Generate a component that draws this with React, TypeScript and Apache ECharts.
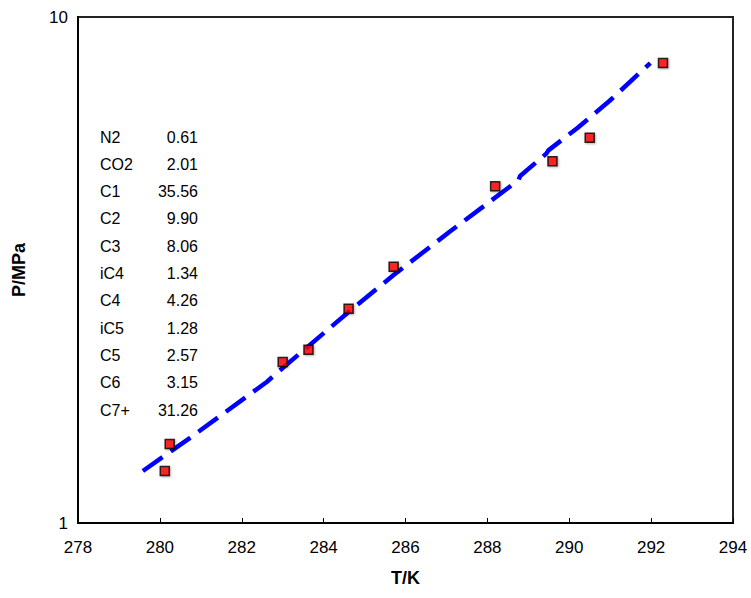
import React, { useEffect, useRef } from "react";
import * as echarts from "echarts";

const measuredT = [280.12, 280.24, 283.0, 283.63, 284.61, 285.71, 288.19, 289.59, 290.5, 292.29];
const measuredP = [1.267, 1.432, 2.08, 2.2, 2.65, 3.21, 4.63, 5.19, 5.77, 8.11];

const modelT = [279.585, 280.73, 282.61, 283.0, 284.61, 285.71, 287.07, 288.76, 288.8, 289.44, 289.49, 290.2, 290.98, 291.98];
const modelP = [1.267, 1.472, 1.9, 2.024, 2.612, 3.091, 3.758, 4.76, 4.85, 5.37, 5.45, 6.035, 6.823, 8.11];

const components = ["N2", "CO2", "C1", "C2", "C3", "iC4", "C4", "iC5", "C5", "C6", "C7+"];
const fractions = ["0.61", "2.01", "35.56", "9.90", "8.06", "1.34", "4.26", "1.28", "2.57", "3.15", "31.26"];

const xTicks = { min: 278, max: 294, interval: 2 };

export default function App() {
  const ref = useRef<HTMLDivElement>(null);
  useEffect(() => {
    if (!ref.current) return;
    const chart = echarts.init(ref.current, null, { renderer: "svg" });
    const font = "Liberation Sans, Arial, sans-serif";
    const textEls: any[] = [];
    components.forEach((c, i) => {
      textEls.push({
        type: "text",
        left: 100,
        top: 129 + i * 27.3,
        style: { text: c, font: `16px ${font}`, fill: "#000" },
      });
      textEls.push({
        type: "text",
        right: 751 - 198,
        top: 129 + i * 27.3,
        style: { text: fractions[i], font: `16px ${font}`, fill: "#000", textAlign: "right" },
      });
    });
    chart.setOption({
      animation: false,
      backgroundColor: "#fff",
      grid: {
        left: 78,
        right: 18,
        top: 17,
        bottom: 75,
        show: true,
        borderColor: "#222",
        borderWidth: 2,
        containLabel: false,
      },
      xAxis: {
        type: "value",
        min: xTicks.min,
        max: xTicks.max,
        interval: xTicks.interval,
        name: "T/K",
        nameLocation: "middle",
        nameGap: 46,
        nameTextStyle: { fontFamily: font, fontSize: 18, fontWeight: "bold", color: "#000" },
        axisLine: { show: true, lineStyle: { color: "#000", width: 2 } },
        axisTick: { show: true, inside: true, length: 5, lineStyle: { color: "#000", width: 1 } },
        axisLabel: { fontFamily: font, fontSize: 17, color: "#000", margin: 16 },
        splitLine: { show: false },
      },
      yAxis: {
        type: "log",
        logBase: 10,
        min: 1,
        max: 10,
        name: "P/MPa",
        nameLocation: "middle",
        nameGap: 50,
        nameTextStyle: { fontFamily: font, fontSize: 18, fontWeight: "bold", color: "#000" },
        axisLine: { show: true, lineStyle: { color: "#000", width: 2 } },
        axisTick: { show: false },
        axisLabel: { fontFamily: font, fontSize: 17, color: "#000", margin: 10 },
        splitLine: { show: false },
        minorTick: { show: false },
      },
      graphic: textEls,
      series: [
        {
          type: "line",
          data: modelT.map((t, i) => [t, modelP[i]]),
          showSymbol: false,
          symbol: "none",
          lineStyle: { color: "#0000FF", width: 4.5, type: [24, 10] },
          z: 2,
        },
        {
          type: "scatter",
          data: measuredT.map((t, i) => [t, measuredP[i]]),
          symbol: "rect",
          symbolSize: 9,
          itemStyle: {
            color: "#FF0000",
            borderColor: "#000",
            borderWidth: 1.5,
            shadowColor: "rgba(0,0,0,0.35)",
            shadowBlur: 2,
            shadowOffsetX: 1,
            shadowOffsetY: 1,
          },
          z: 3,
        },
      ],
    });
    return () => chart.dispose();
  }, []);
  return (
    <div
      ref={ref}
      style={{ position: "absolute", left: 0, top: 0, width: 751, height: 598 }}
    />
  );
}
